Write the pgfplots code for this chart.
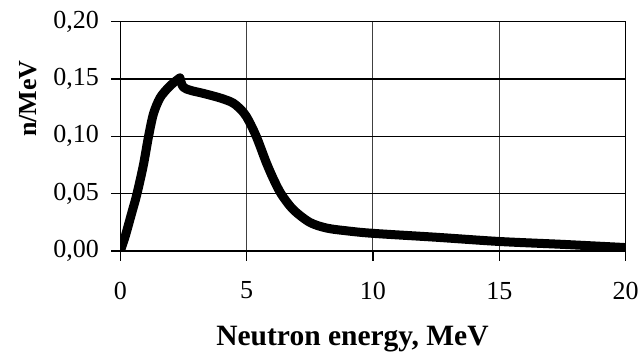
\documentclass[border=0pt]{standalone}
\usepackage{fontspec}
\setmainfont{Liberation Serif}
\usepackage{pgfplots}
\pgfplotsset{compat=1.18}
\begin{document}
\begin{tikzpicture}
\useasboundingbox (-120.3pt,-103pt) rectangle (519.7pt,251pt);
\begin{axis}[
  at={(0pt,0pt)}, anchor=south west,
  scale only axis,
  width=505.3pt, height=229.3pt,
  xmin=0, xmax=20, ymin=0, ymax=0.20,
  xtick={0,5,10,15,20},
  ytick={0,0.05,0.10,0.15,0.20},
  axis line style={black, line width=1.3pt},
  xtick pos=left, ytick pos=left,
  major tick length=0pt,
  xmajorgrids, ymajorgrids,
  x grid style={black!75, line width=1pt},
  y grid style={black, line width=1.4pt},
  /pgf/number format/assume math mode=true,
  ticklabel style={font=\fontsize{26}{26}\selectfont, inner sep=0pt},
  yticklabel style={/pgf/number format/use comma, /pgf/number format/fixed, /pgf/number format/fixed zerofill, /pgf/number format/precision=2, anchor=east, xshift=-21.3pt},
  xticklabel style={anchor=north, yshift=-30.7pt},
  xlabel={\textbf{Neutron energy, MeV}},
  ylabel={\textbf{n/MeV}},
  xlabel style={font=\fontsize{29.5}{29.5}\selectfont, at={(axis description cs:0.4595,-0.41)}, anchor=base, inner sep=0pt},
  ylabel style={font=\fontsize{26}{26}\selectfont, at={(axis description cs:-0.1654,0.665)}, anchor=base, inner sep=0pt},
  after end axis/.code={
    \foreach \xv in {0,5,10,15,20} {\draw[black, line width=1.2pt] (axis cs:\xv,0) -- ++(0pt,-10pt);}
    \foreach \yv in {0,0.05,0.10,0.15,0.20} {\draw[black, line width=1.3pt] (axis cs:0,\yv) -- ++(-9pt,0pt);}
  },
]
\addplot[black, line width=9pt, line join=round, line cap=round, smooth, tension=0.5] coordinates {
(0,0) (0.19,0.0125) (0.45,0.033) (0.65,0.049) (0.91,0.0745) (1.11,0.099)
(1.31,0.1195) (1.57,0.1335) (1.90,0.1425) (2.15,0.1475) (2.36,0.151)
};
\addplot[black, line width=9pt, line join=round, line cap=round, smooth, tension=0.5] coordinates {
(2.36,0.151) (2.49,0.143) (2.8,0.140) (3.28,0.1375) (3.95,0.1335) (4.47,0.129)
(4.87,0.121) (5.1,0.113) (5.4,0.099) (5.79,0.0765) (6.1,0.061)
(6.39,0.049) (6.85,0.036) (7.5,0.025) (8.17,0.020) (9,0.0175)
(10,0.0154) (12.5,0.012) (15,0.0083) (17.5,0.0058) (20,0.003)
};
\end{axis}
\end{tikzpicture}
\end{document}
